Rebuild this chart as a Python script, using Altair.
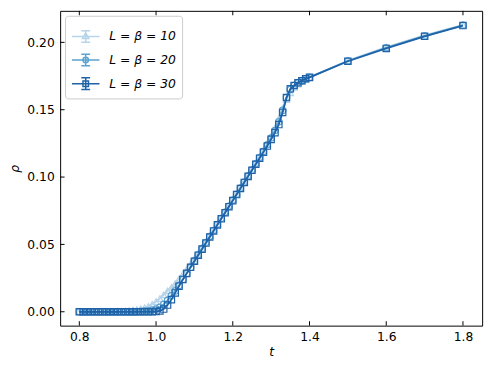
import altair as alt
import pandas as pd

t_vals = [0.80, 0.81, 0.82, 0.83, 0.84, 0.85, 0.86, 0.87, 0.88, 0.89,
          0.90, 0.91, 0.92, 0.93, 0.94, 0.95, 0.96, 0.97, 0.98, 0.99,
          1.00, 1.01, 1.02, 1.03, 1.04, 1.05, 1.06, 1.07, 1.08, 1.09,
          1.10, 1.11, 1.12, 1.13, 1.14, 1.15, 1.16, 1.17, 1.18, 1.19,
          1.20, 1.21, 1.22, 1.23, 1.24, 1.25, 1.26, 1.27, 1.28, 1.29,
          1.30, 1.31, 1.32, 1.33, 1.34, 1.35, 1.36, 1.37, 1.38, 1.39,
          1.40, 1.5, 1.6, 1.7, 1.8]

rho_L10 = [0.0001, 0.0001, 0.0001, 0.0001, 0.0001, 0.0002, 0.0002, 0.0002, 0.0003, 0.0003,
           0.0004, 0.0005, 0.0007, 0.0009, 0.0012, 0.0016, 0.0022, 0.003, 0.004, 0.0055,
           0.0075, 0.0098, 0.0125, 0.0155, 0.018, 0.021, 0.0245, 0.028, 0.0315, 0.0355,
           0.0395, 0.0435, 0.048, 0.052, 0.0565, 0.061, 0.0655, 0.070, 0.0745, 0.079,
           0.0835, 0.088, 0.0925, 0.097, 0.1015, 0.106, 0.1105, 0.115, 0.120, 0.125,
           0.1305, 0.1365, 0.1435, 0.151, 0.1575, 0.1625, 0.1665, 0.169, 0.171, 0.1725,
           0.174, 0.1865, 0.1965, 0.2052, 0.213]

rho_L20 = [0, 0, 0, 0, 0, 0, 0, 0, 0, 0,
           0, 0, 0, 0, 0.0001, 0.0002, 0.0003, 0.0005, 0.0008, 0.0013,
           0.002, 0.0033, 0.0055, 0.0085, 0.012, 0.0155, 0.0195, 0.024, 0.0285, 0.033,
           0.0378, 0.0423, 0.0468, 0.0513, 0.0558, 0.0603, 0.0648, 0.0693, 0.0738, 0.0783,
           0.0828, 0.0873, 0.0918, 0.0963, 0.1008, 0.1053, 0.1098, 0.1145, 0.119, 0.124,
           0.129, 0.1345, 0.141, 0.1495, 0.159, 0.165, 0.168, 0.170, 0.1715, 0.173,
           0.174, 0.1862, 0.196, 0.2048, 0.2127]

rho_L30 = [0, 0, 0, 0, 0, 0, 0, 0, 0, 0,
           0, 0, 0, 0, 0, 0, 0, 0, 0, 0,
           0.0002, 0.0006, 0.002, 0.005, 0.009, 0.014, 0.019, 0.024, 0.0285, 0.033,
           0.0375, 0.042, 0.0465, 0.051, 0.0555, 0.060, 0.0645, 0.069, 0.0735, 0.078,
           0.0825, 0.087, 0.0915, 0.096, 0.1005, 0.105, 0.1095, 0.114, 0.1185, 0.123,
           0.128, 0.133, 0.139, 0.148, 0.159, 0.1655, 0.168, 0.170, 0.1715, 0.173,
           0.174, 0.186, 0.1955, 0.2045, 0.2125]

series_names = ["L = β = 10", "L = β = 20", "L = β = 30"]
series_colors = ["#b6d4ea", "#5ba3d0", "#1f62a8"]
marker_shapes = ["triangle-up", "circle", "square"]
x_ticks = [0.8, 1.0, 1.2, 1.4, 1.6, 1.8]
y_ticks = [0.0, 0.05, 0.10, 0.15, 0.20]

# legend symbols: line + error bar + marker (unit coordinates)
_err = "M-1,0H1M0,-0.42V0.42M-0.32,-0.42H0.32M-0.32,0.42H0.32"
legend_paths = [
    _err + "M0,-0.26L0.23,0.15L-0.23,0.15Z",
    _err + "M0.2,0A0.2,0.2,0,1,1,-0.2,0A0.2,0.2,0,1,1,0.2,0Z",
    _err + "M-0.2,-0.2H0.2V0.2H-0.2Z",
]

rows = []
for name, vals in zip(series_names, [rho_L10, rho_L20, rho_L30]):
    for t, r in zip(t_vals, vals):
        rows.append({"t": t, "rho": r, "series": name})
df = pd.DataFrame(rows)

FONT = "DejaVu Sans"
xscale = alt.Scale(domain=[0.75, 1.85], nice=False, zero=False)
yscale = alt.Scale(domain=[-0.0103, 0.2234], nice=False, zero=False)
cscale = alt.Scale(domain=series_names, range=series_colors)

xaxis = alt.Axis(values=x_ticks, format=".1f", ticks=False, domain=False,
                 grid=False, labelPadding=5, titlePadding=3)
yaxis = alt.Axis(values=y_ticks, format=".2f", ticks=False, domain=False,
                 grid=False, labelPadding=6, titlePadding=5)


def X(field):
    return alt.X(field + ":Q", scale=xscale, title="t", axis=xaxis)


def Y(field):
    return alt.Y(field + ":Q", scale=yscale, title="ρ", axis=yaxis)


leg = alt.Legend(title=None, orient="none", legendX=5, legendY=5, symbolSize=784,
                 symbolStrokeWidth=1.5, labelFont=FONT, labelFontSize=12.5,
                 labelFontStyle="italic", labelColor="black", labelOffset=9,
                 rowPadding=-8, padding=6,
                 fillColor="white", strokeColor="#cccccc", cornerRadius=3,
                 symbolFillColor="transparent")

base = alt.Chart(df)

layers = []
for i, name in enumerate(series_names):
    sub = base.transform_filter(alt.datum.series == name)
    line = sub.mark_line(strokeWidth=1.8).encode(
        x=X("t"), y=Y("rho"),
        color=alt.Color("series:N", scale=cscale, legend=leg),
    )
    pts = sub.mark_point(filled=False, size=42, strokeWidth=1.2, opacity=1,
                         shape=marker_shapes[i]).encode(
        x=X("t"), y=Y("rho"),
        color=alt.Color("series:N", scale=cscale, legend=leg),
    )
    layers += [line, pts]

legend_layer = base.mark_point(filled=False, opacity=1).encode(
    x=X("t"), y=Y("rho"),
    color=alt.Color("series:N", scale=cscale, legend=leg),
    shape=alt.Shape("series:N", scale=alt.Scale(domain=series_names, range=legend_paths), legend=leg),
).transform_filter("false")

tick_y = alt.Chart(pd.DataFrame({"rho": y_ticks})).mark_rule(color="black", strokeWidth=1).encode(
    y=Y("rho"), x=alt.value(0), x2=alt.value(4.5))
tick_xb = alt.Chart(pd.DataFrame({"t": x_ticks})).mark_rule(color="black", strokeWidth=1).encode(
    x=X("t"), y=alt.value(320), y2=alt.value(315.5))
tick_xt = alt.Chart(pd.DataFrame({"t": x_ticks})).mark_rule(color="black", strokeWidth=1).encode(
    x=X("t"), y=alt.value(0), y2=alt.value(4.5))

chart = alt.layer(legend_layer, *layers, tick_y, tick_xb, tick_xt).properties(
    width=429, height=320,
    background="white",
    autosize=alt.AutoSizeParams(type="none"),
    padding={"left": 53, "top": 0, "right": 9, "bottom": 30},
).configure_view(
    stroke="black", strokeWidth=1
).configure_axis(
    labelFont=FONT, labelFontSize=12.5, labelColor="black",
    titleFont=FONT, titleFontSize=12.5, titleFontStyle="italic",
    titleFontWeight="normal", titleColor="black",
)

chart.save("out.html", embed_options={"renderer": "svg", "actions": False})
